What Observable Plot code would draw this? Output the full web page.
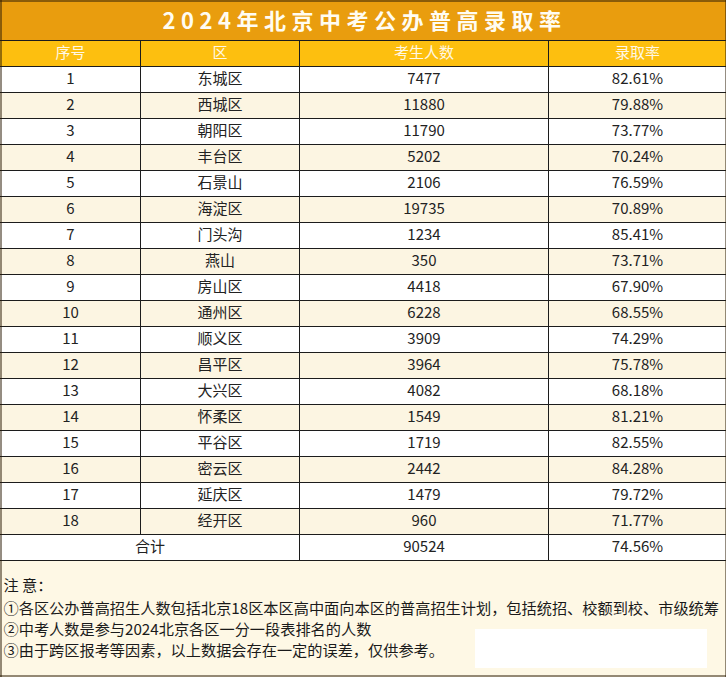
<!DOCTYPE html>
<html>
<head>
<meta charset="utf-8">
<script src="https://cdn.jsdelivr.net/npm/d3@7"></script>
<script src="https://cdn.jsdelivr.net/npm/@observablehq/plot@0.6"></script>
<style>
  html, body { margin: 0; padding: 0; background: #fff; }
  #chart svg { display: block; }
</style>
</head>
<body>
<div id="chart"></div>
<script>
// ---- data ----
const title = "2024年北京中考公办普高录取率";
const headers = ["序号", "区", "考生人数", "录取率"];
const seq = [1, 2, 3, 4, 5, 6, 7, 8, 9, 10, 11, 12, 13, 14, 15, 16, 17, 18];
const districts = ["东城区", "西城区", "朝阳区", "丰台区", "石景山", "海淀区", "门头沟", "燕山", "房山区",
  "通州区", "顺义区", "昌平区", "大兴区", "怀柔区", "平谷区", "密云区", "延庆区", "经开区"];
const counts = [7477, 11880, 11790, 5202, 2106, 19735, 1234, 350, 4418, 6228, 3909, 3964, 4082, 1549, 1719, 2442, 1479, 960];
const rates = [82.61, 79.88, 73.77, 70.24, 76.59, 70.89, 85.41, 73.71, 67.90, 68.55, 74.29, 75.78, 68.18, 81.21, 82.55, 84.28, 79.72, 71.77];
const totalLabel = "合计";
const totalCount = 90524;
const totalRate = 74.56;
const notes = [
  "注 意：",
  "①各区公办普高招生人数包括北京18区本区高中面向本区的普高招生计划，包括统招、校额到校、市级统筹",
  "②中考人数是参与2024北京各区一分一段表排名的人数",
  "③由于跨区报考等因素，以上数据会存在一定的误差，仅供参考。"
];

// ---- layout ----
const W = 726, H = 677;
const titleH = 40, rowH = 26;
const colEdges = [0, 140, 299, 548, 726];
const colMid = colEdges.slice(0, -1).map((e, i) => (e + colEdges[i + 1]) / 2);
const headerTop = titleH;
const bodyTop = headerTop + rowH;
const nRows = seq.length;
const totalTop = bodyTop + nRows * rowH;
const notesTop = totalTop + rowH;
const font = "'Noto Sans CJK SC', 'Noto Sans', sans-serif";
const fmtRate = v => v.toFixed(2) + "%";

const rows = seq.map((s, i) => ({
  seq: s, district: districts[i], count: counts[i], rate: rates[i],
  top: bodyTop + i * rowH, mid: bodyTop + i * rowH + rowH / 2
}));

const cells = [];
rows.forEach(r => {
  cells.push({x: colMid[0], y: r.mid, t: String(r.seq)});
  cells.push({x: colMid[1], y: r.mid, t: r.district});
  cells.push({x: colMid[2], y: r.mid, t: String(r.count)});
  cells.push({x: colMid[3], y: r.mid, t: fmtRate(r.rate)});
});
const totalMid = totalTop + rowH / 2;
cells.push({x: (colEdges[0] + colEdges[2]) / 2, y: totalMid, t: totalLabel});
cells.push({x: colMid[2], y: totalMid, t: String(totalCount)});
cells.push({x: colMid[3], y: totalMid, t: fmtRate(totalRate)});

const headerCells = headers.map((h, i) => ({x: colMid[i], y: headerTop + rowH / 2, t: h}));

const hLines = d3.range(nRows + 3).map(i => headerTop + i * rowH);
const vLines = [
  {x: colEdges[1], y1: headerTop, y2: totalTop},
  {x: colEdges[2], y1: headerTop, y2: notesTop},
  {x: colEdges[3], y1: headerTop, y2: notesTop}
];
const noteLines = notes.map((t, i) => ({x: 3, y: notesTop + (i === 0 ? 26 : 49 + (i - 1) * 21), t}));

const chart = Plot.plot({
  width: W, height: H,
  margin: 0,
  x: {domain: [0, W], range: [0, W], axis: null},
  y: {domain: [0, H], range: [0, H], axis: null},
  style: {background: "transparent", fontFamily: font},
  marks: [
    // backgrounds
    Plot.rect([{}], {x1: 0, x2: W, y1: 0, y2: titleH, fill: "#E99D0E"}),
    Plot.rect([{}], {x1: 0, x2: W, y1: headerTop, y2: bodyTop, fill: "#FDBF0F"}),
    Plot.rect(rows.filter(r => r.seq % 2 === 0), {x1: 0, x2: W, y1: "top", y2: d => d.top + rowH, fill: "#FCF5E2"}),
    Plot.rect([{}], {x1: 0, x2: W, y1: notesTop, y2: H, fill: "#FEF8E5"}),
    Plot.rect([{}], {x1: 475, x2: 707, y1: 629, y2: 668, fill: "#FFFFFF"}),
    // grid lines
    Plot.ruleY(hLines, {x1: 0, x2: W, stroke: "#1c1c1c", strokeWidth: 1}),
    Plot.ruleX(vLines, {x: "x", y1: "y1", y2: "y2", stroke: "#1c1c1c", strokeWidth: 1}),
    Plot.ruleX([0.5, W - 0.5], {y1: 0, y2: H, stroke: "#2a1a05", strokeWidth: 1}),
    Plot.ruleY([0.5, H - 1.5], {x1: 0, x2: W, stroke: "#2a1a05", strokeWidth: 1}),
    // texts
    Plot.text([title], {x: W / 2 + 1, y: titleH / 2 + 1, text: d => d, fill: "#FFFCF2", fontSize: 22, fontWeight: "bold"}),
    Plot.text(headerCells, {x: "x", y: "y", text: "t", fill: "#FFF8E6", fontSize: 15}),
    Plot.text(cells, {x: "x", y: "y", text: "t", fill: "#222222", fontSize: 15}),
    Plot.text(noteLines, {x: "x", y: "y", text: "t", fill: "#1a1a1a", fontSize: 15.2, textAnchor: "start"})
  ]
});

// letter spacing for the title
d3.select(chart).selectAll("text").filter(function () { return this.textContent === title; })
  .style("letter-spacing", "5.5px");

document.getElementById("chart").appendChild(chart);
</script>
</body>
</html>
